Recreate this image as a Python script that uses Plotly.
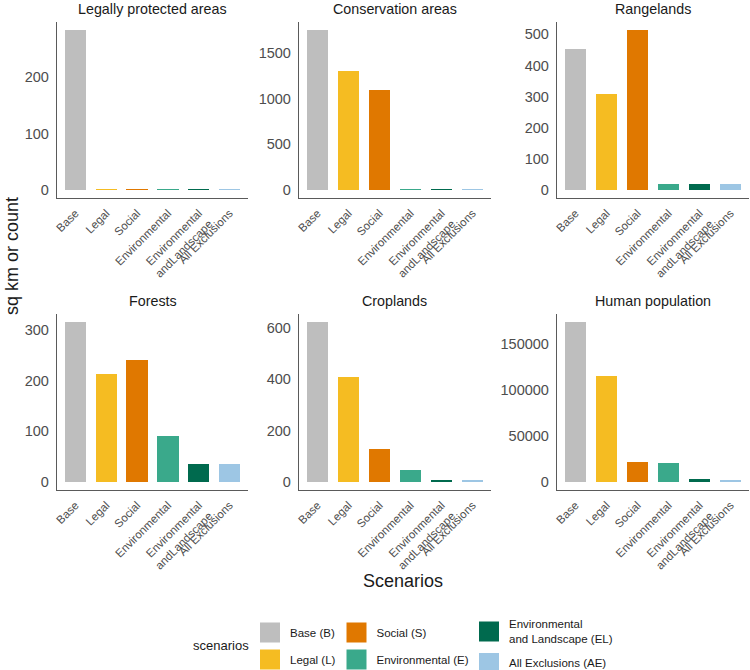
import plotly.graph_objects as go

# ---- data ----
panel_titles = ["Legally protected areas", "Conservation areas", "Rangelands",
                "Forests", "Croplands", "Human population"]
scenario_ticks = ["Base", "Legal", "Social", "Environmental",
                  "Environmental<br>andLandscape", "All Exclusions"]
scenario_names = ["Base (B)", "Legal (L)", "Social (S)", "Environmental (E)",
                  "Environmental<br>and Landscape (EL)", "All Exclusions (AE)"]
scenario_colors = ["#BEBEBE", "#F5BC22", "#E07800", "#3AA98B", "#006A4E", "#9DC6E4"]

legally_protected = [283.6, 1.5, 1.5, 1.5, 1.5, 1.0]
conservation = [1750, 1307, 1090, 8, 8, 5]
rangelands = [452, 309, 514, 20, 20, 20]
forests = [316, 213, 240, 90, 35, 35]
croplands = [622, 408, 128, 45, 6, 5]
human_population = [173400, 115200, 22000, 20500, 3000, 2500]

panel_values = [legally_protected, conservation, rangelands, forests, croplands, human_population]
panel_dticks = [100, 500, 100, 100, 200, 50000]

# ---- layout geometry ----
W, H = 750, 670


def fx(px):
    return px / W


def fy(py):
    return 1 - py / H


col_px = [(57, 248), (299, 491), (557, 749)]
row_px = [(22, 198), (314, 490)]

FONT = "Liberation Sans, Arial, Helvetica, sans-serif"
AXIS_COL = "#5a5a5a"
TICK_COL = "#4D4D4D"

fig = go.Figure()
layout = dict(
    width=W, height=H, margin=dict(l=0, r=0, t=0, b=0, autoexpand=False),
    paper_bgcolor="white", plot_bgcolor="white",
    font=dict(family=FONT, color="#1a1a1a"),
    barmode="stack", showlegend=True,
)
annotations = []

for i, (title, vals) in enumerate(zip(panel_titles, panel_values)):
    r, c = divmod(i, 3)
    n = "" if i == 0 else str(i + 1)
    x0, x1 = col_px[c]
    yt, yb = row_px[r]
    fig.add_trace(go.Bar(
        x=scenario_ticks, y=vals, marker=dict(color=scenario_colors, line=dict(width=0)),
        width=0.7, xaxis="x" + n, yaxis="y" + n, showlegend=False,
        hoverinfo="x+y",
    ))
    vmax = max(vals)
    layout["xaxis" + n] = dict(
        domain=[fx(x0), fx(x1)], anchor="y" + n, type="category",
        range=[-0.6, 5.6], showline=True, linecolor=AXIS_COL, linewidth=1.3,
        showgrid=False, zeroline=False, ticks="", tickangle=-45, ticklabelstandoff=3,
        automargin=False,
        tickfont=dict(size=11.5, color=TICK_COL, family=FONT),
    )
    layout["yaxis" + n] = dict(
        domain=[fy(yb), fy(yt)], anchor="x" + n,
        range=[-0.05 * vmax, 1.05 * vmax], dtick=panel_dticks[i], tick0=0,
        tickformat="d", showline=True, linecolor=AXIS_COL, linewidth=1.3,
        showgrid=False, zeroline=False, ticks="", ticklabelstandoff=4, automargin=False,
        tickfont=dict(size=14.5, color=TICK_COL, family=FONT),
    )
    annotations.append(dict(
        text=title, x=fx((x0 + x1) / 2), y=fy(yt - 13), xref="paper", yref="paper",
        xanchor="center", yanchor="middle", showarrow=False,
        font=dict(size=14.3, color="#1a1a1a", family=FONT),
    ))

# axis titles
annotations.append(dict(text="sq km or count", x=fx(12), y=fy(256), xref="paper", yref="paper",
                        textangle=-90, showarrow=False, xanchor="center", yanchor="middle",
                        font=dict(size=18, color="#1a1a1a", family=FONT)))
annotations.append(dict(text="Scenarios", x=fx(403), y=fy(581), xref="paper", yref="paper",
                        showarrow=False, xanchor="center", yanchor="middle",
                        font=dict(size=18, color="#1a1a1a", family=FONT)))
annotations.append(dict(text="scenarios", x=fx(191), y=fy(645), xref="paper", yref="paper",
                        showarrow=False, xanchor="left", yanchor="middle",
                        font=dict(size=13, color="#1a1a1a", family=FONT)))

# legend entries (one legend per column, two rows each)
legend_ids = ["legend", "legend", "legend2", "legend2", "legend3", "legend3"]
for name, col, lid in zip(scenario_names, scenario_colors, legend_ids):
    fig.add_trace(go.Scatter(
        x=[None], y=[None], mode="markers", name=name, legend=lid, legendgroup=name,
        marker=dict(symbol="square", size=16, color=col, line=dict(width=4, color=col)),
        xaxis="x", yaxis="y", hoverinfo="skip",
    ))

key_centers = [270, 356.5, 489]
legend_tops = [618, 618, 610]
legend_gaps = [8, 8, 5.5]
for k, lid in enumerate(["legend", "legend2", "legend3"]):
    layout[lid] = dict(
        x=fx(key_centers[k] - 20), y=fy(legend_tops[k]), xanchor="left", yanchor="top",
        orientation="v", bgcolor="rgba(0,0,0,0)", borderwidth=0,
        font=dict(size=11.5, color="#1a1a1a", family=FONT),
        tracegroupgap=legend_gaps[k], itemclick=False, itemdoubleclick=False,
    )

layout["annotations"] = annotations
fig.update_layout(**layout)
fig.write_html("out.html", config={"displayModeBar": False},
               post_script="document.body.style.margin='0';document.body.style.overflow='hidden';")
